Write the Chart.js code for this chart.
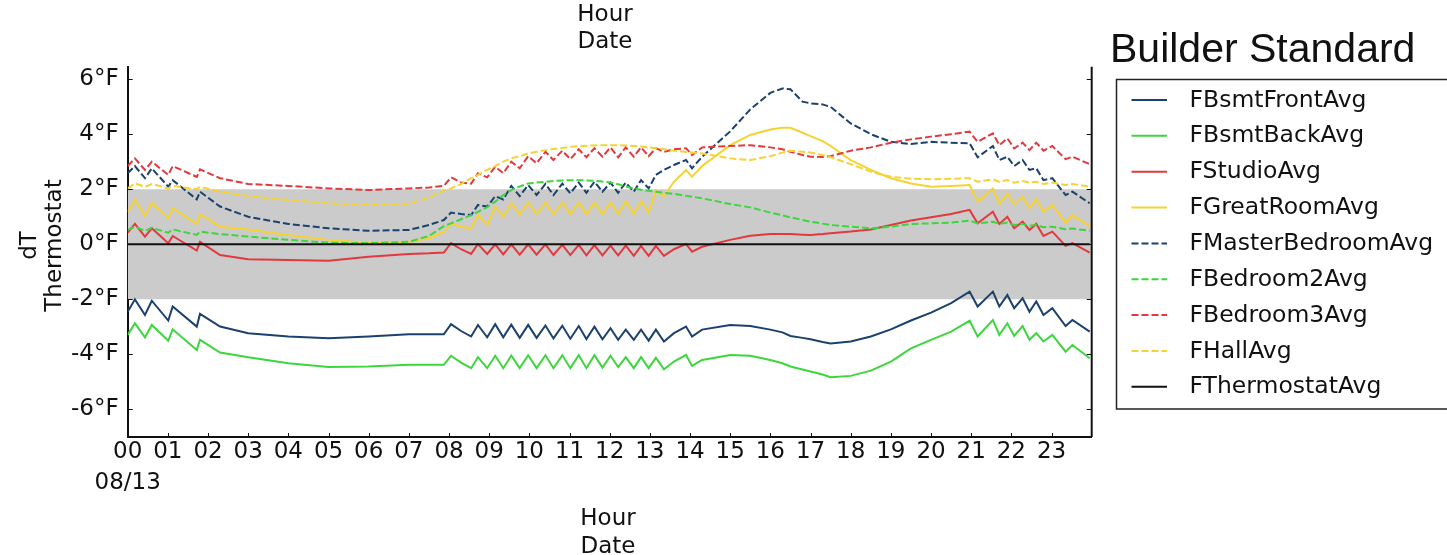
<!DOCTYPE html>
<html>
<head>
<meta charset="utf-8">
<title>Builder Standard</title>
<script src="https://cdn.jsdelivr.net/npm/chart.js@4.4.0/dist/chart.umd.min.js"></script>
<style>
  html, body { margin: 0; padding: 0; background: #fff; }
  #wrap { width: 1447px; height: 555px; }
</style>
</head>
<body>
<div id="wrap"><canvas id="tempChart" width="1447" height="555"></canvas></div>
<script>
// hours since midnight on 08/13
const hours = [0, 0.18, 0.43, 0.6, 1.01, 1.12, 1.72, 1.8, 2.3, 3,
  4, 5, 6, 7, 7.5, 7.87, 8.05, 8.3, 8.55, 8.72,
  8.95, 9.15, 9.35, 9.55, 9.76, 9.97, 10.18, 10.4, 10.6, 10.82,
  11.02, 11.23, 11.42, 11.62, 11.82, 12.02, 12.21, 12.4, 12.6, 12.78,
  12.97, 13.15, 13.35, 13.6, 13.9, 14.05, 14.3, 15, 15.5, 16,
  16.3, 16.5, 16.8, 17, 17.3, 17.5, 18, 18.5, 19, 19.5,
  20, 20.5, 20.96, 21.16, 21.54, 21.7, 21.9, 22.07, 22.28, 22.45,
  22.62, 22.8, 23.02, 23.35, 23.52, 23.95];

// dT vs thermostat, degrees F
const bsmtFrontAvg = [-2.45, -2.0, -2.57, -2.05, -2.77, -2.26, -2.99, -2.53, -2.99, -3.23,
  -3.35, -3.41, -3.35, -3.27, -3.27, -3.27, -2.9, -3.15, -3.35, -2.93,
  -3.38, -2.9, -3.38, -2.92, -3.4, -2.93, -3.4, -2.95, -3.42, -2.96,
  -3.43, -2.97, -3.44, -2.99, -3.45, -3.05, -3.47, -3.1, -3.47, -3.1,
  -3.5, -3.1, -3.53, -3.23, -2.99, -3.35, -3.1, -2.93, -2.97, -3.1,
  -3.2, -3.33, -3.4, -3.45, -3.55, -3.6, -3.53, -3.35, -3.09, -2.77,
  -2.48, -2.14, -1.72, -2.26, -1.72, -2.26, -1.84, -2.32, -1.96, -2.45,
  -2.08, -2.57, -2.32, -2.97, -2.75, -3.17];

const bsmtBackAvg = [-3.29, -2.87, -3.38, -2.93, -3.5, -3.09, -3.84, -3.47, -3.93, -4.1,
  -4.32, -4.46, -4.44, -4.38, -4.38, -4.38, -4.05, -4.3, -4.5, -4.1,
  -4.5, -4.05, -4.5, -4.04, -4.5, -4.03, -4.5, -4.03, -4.5, -4.03,
  -4.5, -4.03, -4.5, -4.03, -4.48, -4.05, -4.46, -4.1, -4.5, -4.1,
  -4.5, -4.12, -4.54, -4.26, -4.02, -4.42, -4.2, -4.02, -4.05, -4.2,
  -4.32, -4.44, -4.55, -4.62, -4.73, -4.83, -4.78, -4.59, -4.26, -3.78,
  -3.47, -3.17, -2.77, -3.35, -2.75, -3.29, -2.87, -3.33, -2.97, -3.47,
  -3.23, -3.53, -3.29, -3.9, -3.66, -4.14];

const studioAvg = [0.42, 0.74, 0.28, 0.58, 0.04, 0.3, -0.23, 0.09, -0.39, -0.54,
  -0.57, -0.6, -0.45, -0.35, -0.33, -0.3, 0.04, -0.18, -0.35, 0.01,
  -0.35, 0.0, -0.37, 0.0, -0.38, 0.0, -0.38, 0.0, -0.39, -0.02,
  -0.39, -0.02, -0.4, -0.03, -0.4, -0.05, -0.4, -0.05, -0.42, -0.06,
  -0.42, -0.06, -0.42, -0.18, 0.01, -0.27, -0.09, 0.16, 0.31, 0.37,
  0.37, 0.37, 0.35, 0.34, 0.37, 0.4, 0.46, 0.54, 0.7, 0.86,
  0.98, 1.1, 1.25, 0.76, 1.18, 0.74, 1.0, 0.58, 0.82, 0.52,
  0.74, 0.3, 0.46, -0.06, 0.04, -0.3];

const greatRoomAvg = [1.18, 1.61, 1.03, 1.51, 0.94, 1.31, 0.74, 1.1, 0.64, 0.54,
  0.34, 0.16, 0.06, 0.09, 0.22, 0.46, 0.76, 0.64, 0.58, 1.06,
  0.7, 1.37, 1.0, 1.5, 1.08, 1.52, 1.08, 1.52, 1.08, 1.52,
  1.08, 1.52, 1.08, 1.52, 1.08, 1.52, 1.1, 1.55, 1.1, 1.55,
  1.15, 1.95, 1.75, 2.27, 2.7, 2.45, 2.84, 3.6, 3.97, 4.17,
  4.23, 4.23, 4.05, 3.93, 3.75, 3.57, 3.06, 2.7, 2.4, 2.21,
  2.09, 2.12, 2.15, 1.55, 2.03, 1.46, 1.85, 1.43, 1.73, 1.31,
  1.63, 1.18, 1.43, 0.78, 1.06, 0.66];

const masterBedroomAvg = [2.58, 2.84, 2.4, 2.76, 2.09, 2.33, 1.63, 1.91, 1.37, 1.0,
  0.74, 0.58, 0.49, 0.52, 0.7, 0.88, 1.15, 1.1, 1.06, 1.43,
  1.37, 1.75, 1.63, 2.12, 1.75, 2.15, 1.79, 2.19, 1.79, 2.2,
  1.85, 2.24, 1.87, 2.27, 1.91, 2.24, 1.87, 2.24, 1.91, 2.33,
  2.03, 2.52, 2.7, 2.88, 3.06, 2.76, 3.18, 4.1, 4.9, 5.5,
  5.66, 5.63, 5.18, 5.12, 5.08, 4.99, 4.39, 4.0, 3.72, 3.64,
  3.72, 3.69, 3.67, 3.16, 3.57, 3.06, 3.18, 2.84, 3.06, 2.7,
  2.76, 2.33, 2.4, 1.79, 1.91, 1.49];

const bedroom2Avg = [0.52, 0.64, 0.49, 0.6, 0.42, 0.54, 0.34, 0.46, 0.37, 0.28,
  0.16, 0.06, 0.04, 0.09, 0.3, 0.66, 0.76, 0.91, 1.06, 1.18,
  1.35, 1.55, 1.78, 1.97, 2.1, 2.21, 2.24, 2.27, 2.3, 2.32,
  2.33, 2.33, 2.32, 2.31, 2.28, 2.24, 2.18, 2.1, 2.03, 1.98,
  1.94, 1.91, 1.87, 1.83, 1.76, 1.73, 1.67, 1.46, 1.34, 1.15,
  1.05, 0.98, 0.88, 0.82, 0.75, 0.7, 0.64, 0.58, 0.64, 0.74,
  0.76, 0.79, 0.86, 0.76, 0.82, 0.74, 0.79, 0.7, 0.74, 0.67,
  0.7, 0.62, 0.64, 0.55, 0.57, 0.49];

const bedroom3Avg = [2.84, 3.12, 2.7, 3.0, 2.52, 2.84, 2.45, 2.72, 2.4, 2.19,
  2.12, 2.03, 1.97, 2.03, 2.06, 2.12, 2.43, 2.24, 2.2, 2.58,
  2.43, 2.82, 2.58, 3.0, 2.76, 3.2, 2.94, 3.36, 3.06, 3.4,
  3.09, 3.45, 3.16, 3.49, 3.18, 3.52, 3.16, 3.52, 3.18, 3.52,
  3.2, 3.49, 3.36, 3.45, 3.49, 3.24, 3.52, 3.57, 3.6, 3.52,
  3.45, 3.36, 3.24, 3.18, 3.17, 3.2, 3.4, 3.52, 3.69, 3.81,
  3.91, 4.0, 4.09, 3.72, 4.03, 3.6, 3.85, 3.48, 3.69, 3.42,
  3.69, 3.4, 3.57, 3.09, 3.18, 2.91];

const hallAvg = [2.03, 2.21, 2.09, 2.19, 2.03, 2.12, 2.0, 2.09, 1.91, 1.75,
  1.61, 1.49, 1.43, 1.47, 1.7, 1.95, 2.03, 2.19, 2.4, 2.52,
  2.7, 2.84, 3.0, 3.12, 3.2, 3.3, 3.36, 3.42, 3.46, 3.5,
  3.54, 3.56, 3.58, 3.59, 3.6, 3.6, 3.6, 3.59, 3.57, 3.55,
  3.52, 3.49, 3.45, 3.4, 3.35, 3.33, 3.3, 3.12, 3.06, 3.2,
  3.33, 3.4, 3.36, 3.33, 3.24, 3.16, 2.91, 2.64, 2.45, 2.38,
  2.36, 2.38, 2.4, 2.27, 2.36, 2.27, 2.33, 2.24, 2.3, 2.24,
  2.27, 2.19, 2.24, 2.15, 2.19, 2.09];

const thermostatHours = [0, 23.95];
const thermostatAvg = [0, 0];

// comfort band +/- 2F
const bandHours = [0, 24];
const bandUpper = [2, 2];
const bandLower = [-2, -2];

const hourTicks = [0, 1, 2, 3, 4, 5, 6, 7, 8, 9, 10, 11, 12, 13, 14, 15, 16, 17, 18, 19, 20, 21, 22, 23];
const degreeTicks = [-6, -4, -2, 0, 2, 4, 6];
const dateLabel = '08/13';
const chartTitle = 'Builder Standard';

const NAVY = '#1b416d';
const GREEN = '#3dd63d';
const RED = '#e2393e';
const YELLOW = '#f6d232';
const BLACK = '#111111';
const FONT = '"DejaVu Sans", sans-serif';

const series = [
  { label: 'FBsmtFrontAvg', xs: hours, ys: bsmtFrontAvg, color: NAVY, dashed: false },
  { label: 'FBsmtBackAvg', xs: hours, ys: bsmtBackAvg, color: GREEN, dashed: false },
  { label: 'FStudioAvg', xs: hours, ys: studioAvg, color: RED, dashed: false },
  { label: 'FGreatRoomAvg', xs: hours, ys: greatRoomAvg, color: YELLOW, dashed: false },
  { label: 'FMasterBedroomAvg', xs: hours, ys: masterBedroomAvg, color: NAVY, dashed: true },
  { label: 'FBedroom2Avg', xs: hours, ys: bedroom2Avg, color: GREEN, dashed: true },
  { label: 'FBedroom3Avg', xs: hours, ys: bedroom3Avg, color: RED, dashed: true },
  { label: 'FHallAvg', xs: hours, ys: hallAvg, color: YELLOW, dashed: true },
  { label: 'FThermostatAvg', xs: thermostatHours, ys: thermostatAvg, color: BLACK, dashed: false }
];

const DASH = [7, 3];

function toPoints(xs, ys) {
  return xs.map((x, i) => ({ x: x, y: ys[i] }));
}

const lineDatasets = series.map((s, i) => ({
  label: s.label,
  data: toPoints(s.xs, s.ys),
  borderColor: s.color,
  borderWidth: 2,
  borderDash: s.dashed ? DASH : [],
  pointRadius: 0,
  tension: 0,
  fill: false,
  order: series.length - i,
  inLegend: true
}));

const bandDatasets = [
  {
    label: 'bandLower',
    data: toPoints(bandHours, bandLower),
    borderColor: 'rgba(0,0,0,0)',
    borderWidth: 0,
    pointRadius: 0,
    fill: false,
    order: 21
  },
  {
    label: 'bandUpper',
    data: toPoints(bandHours, bandUpper),
    borderColor: 'rgba(0,0,0,0)',
    borderWidth: 0,
    pointRadius: 0,
    fill: '-1',
    backgroundColor: '#cbcbcb',
    order: 20
  }
];

// text, spines, inward ticks and the boxed legend
const decorations = {
  id: 'decorations',
  afterDraw(chart) {
    const ctx = chart.ctx;
    const area = chart.chartArea;
    const xScale = chart.scales.x;
    const yScale = chart.scales.y;
    ctx.save();

    // right spine
    ctx.strokeStyle = BLACK;
    ctx.lineWidth = 2;
    ctx.beginPath();
    ctx.moveTo(area.right, area.top);
    ctx.lineTo(area.right, area.bottom);
    ctx.stroke();

    // inward tick marks
    ctx.lineWidth = 1;
    ctx.beginPath();
    hourTicks.forEach(h => {
      const px = Math.round(xScale.getPixelForValue(h)) + 0.5;
      ctx.moveTo(px, area.bottom);
      ctx.lineTo(px, area.bottom - 4);
    });
    degreeTicks.forEach(d => {
      const py = Math.round(yScale.getPixelForValue(d)) + 0.5;
      ctx.moveTo(area.left, py);
      ctx.lineTo(area.left + 5, py);
      ctx.moveTo(area.right, py);
      ctx.lineTo(area.right - 5, py);
    });
    ctx.stroke();

    // axis titles
    ctx.fillStyle = BLACK;
    ctx.font = '23px ' + FONT;
    ctx.textAlign = 'center';
    ctx.textBaseline = 'alphabetic';
    ctx.fillText('Hour', 605, 20.7);
    ctx.fillText('Date', 605, 48.3);
    ctx.fillText('Hour', 608, 525);
    ctx.fillText('Date', 608, 552.6);

    ctx.save();
    ctx.translate(36, 245.5);
    ctx.rotate(-Math.PI / 2);
    ctx.fillText('dT', 0, 0);
    ctx.restore();
    ctx.save();
    ctx.translate(60.5, 245.5);
    ctx.rotate(-Math.PI / 2);
    ctx.fillText('Thermostat', 0, 0);
    ctx.restore();

    // title
    ctx.textAlign = 'left';
    ctx.font = '41px "Liberation Sans", Arial, sans-serif';
    ctx.fillText(chartTitle, 1110, 61.7);

    // legend
    ctx.lineWidth = 1.5;
    ctx.strokeStyle = '#222';
    ctx.strokeRect(1116.5, 79.5, 345, 329.5);
    ctx.font = '23.5px ' + FONT;
    ctx.textBaseline = 'middle';
    const items = chart.data.datasets.filter(ds => ds.inLegend);
    items.forEach((ds, i) => {
      const rowY = 100 + i * 35.85;
      ctx.strokeStyle = ds.borderColor;
      ctx.lineWidth = 2;
      ctx.setLineDash(ds.borderDash);
      ctx.beginPath();
      ctx.moveTo(1131.5, rowY);
      ctx.lineTo(1167, rowY);
      ctx.stroke();
      ctx.setLineDash([]);
      ctx.fillStyle = BLACK;
      ctx.fillText(ds.label, 1189.5, rowY + 0.5);
    });

    ctx.restore();
  }
};

const chart = new Chart(document.getElementById('tempChart'), {
  type: 'line',
  data: { datasets: lineDatasets.concat(bandDatasets) },
  options: {
    responsive: false,
    animation: false,
    events: [],
    devicePixelRatio: 1,
    layout: { padding: { left: 0, top: 66.7, right: 355.3, bottom: 0 } },
    plugins: {
      legend: { display: false },
      tooltip: { enabled: false },
      title: { display: false }
    },
    scales: {
      x: {
        type: 'linear',
        min: 0,
        max: 24,
        afterFit: scale => { scale.height = 118; },
        afterBuildTicks: scale => { scale.ticks = hourTicks.map(v => ({ value: v })); },
        grid: { display: false, drawTicks: false },
        border: { display: true, color: BLACK, width: 2 },
        ticks: {
          autoSkip: false,
          maxRotation: 0,
          padding: 0,
          color: BLACK,
          font: { family: FONT, size: 23, lineHeight: 1.335 },
          callback: v => {
            const hh = String(v).padStart(2, '0');
            return v === 0 ? [hh, dateLabel] : hh;
          }
        }
      },
      y: {
        type: 'linear',
        min: -7,
        max: 6.45,
        afterFit: scale => { scale.width = 127.7; },
        afterBuildTicks: scale => { scale.ticks = degreeTicks.map(v => ({ value: v })); },
        grid: { display: false, drawTicks: false },
        border: { display: true, color: BLACK, width: 2 },
        ticks: {
          padding: 9,
          color: BLACK,
          font: { family: FONT, size: 23 },
          callback: v => v + '°F'
        }
      }
    }
  },
  plugins: [decorations]
});
</script>
</body>
</html>
